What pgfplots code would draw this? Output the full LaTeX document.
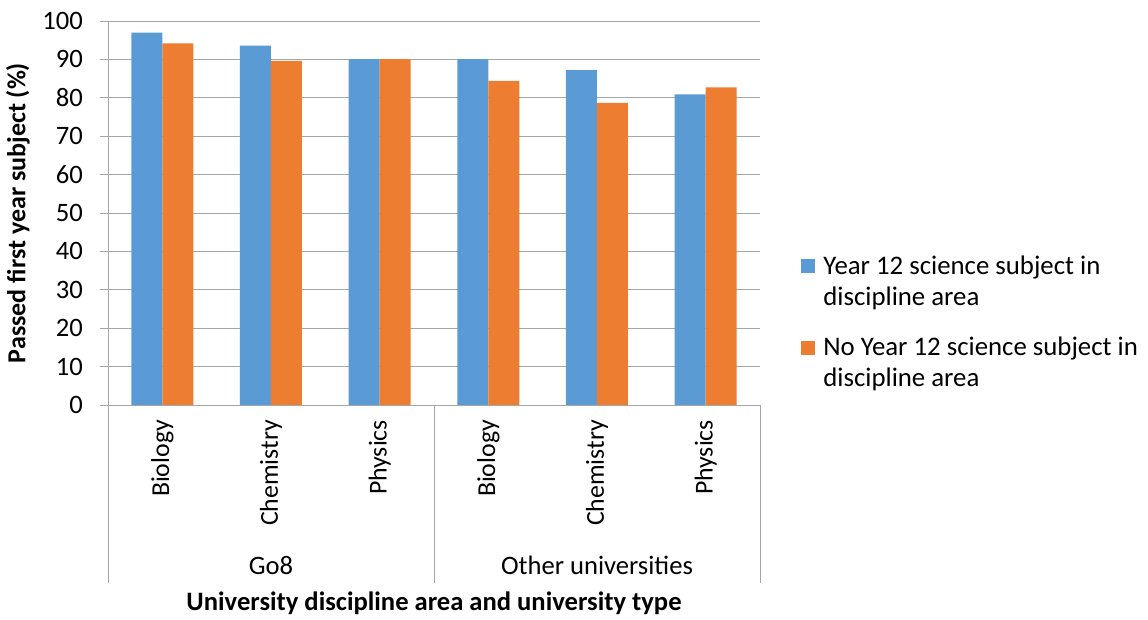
\documentclass[border=0pt]{standalone}
\usepackage{pgfplots}
\pgfplotsset{compat=1.18}
\usepackage{fontspec}
\setmainfont{Carlito}
\definecolor{cblue}{HTML}{5B9BD5}
\definecolor{corange}{HTML}{ED7D31}
\definecolor{cgrid}{HTML}{A6A6A6}
\begin{document}
\begin{tikzpicture}[font=\fontsize{13.3}{15.5}\selectfont]
\useasboundingbox (0,0) rectangle (574pt,310pt);
\begin{axis}[
  at={(54pt,107.5pt)}, anchor=south west,
  scale only axis, width=326pt, height=192pt,
  ybar=0pt, bar width=15.5pt,
  xmin=-0.5, xmax=5.5, ymin=0, ymax=100,
  xtick={0,1,2,3,4,5},
  xticklabels={Biology,Chemistry,Physics,Biology,Chemistry,Physics},
  xticklabel style={rotate=90, anchor=east, font=\fontsize{12.9}{15.5}\selectfont},
  x tick style={draw=none},
  ytick={0,10,...,100},
  y tick style={cgrid, thin},
  ytick pos=left,
  tick align=outside, major tick length=4pt,
  yticklabel style={xshift=-5pt},
  ymajorgrids, major grid style={cgrid, thin},
  axis line style={cgrid, thin},
  axis x line*=bottom, axis y line*=left,
  /pgf/number format/assume math mode=true,
  clip=false,
  ylabel={\bfseries Passed first year subject (\%)},
  ylabel style={at={(axis description cs:-0.138,0.5)}, anchor=center, font=\fontsize{13}{15.5}\selectfont},
  xlabel={\bfseries University discipline area and university type},
  xlabel style={at={(axis description cs:0.5,0)}, anchor=base, yshift=-103pt},
  legend style={at={(axis description cs:1,0.5)}, anchor=north west, xshift=20.5pt, yshift=-19pt,
    draw=none, fill=none, inner sep=0pt, row sep=10.5pt, cells={align=left, anchor=west},
    font=\fontsize{13.4}{15.5}\selectfont},
  legend image code/.code={\path[fill=none, draw=none] (0pt,-11.25pt) rectangle (9pt,11.25pt); \fill[#1] (0pt,4.25pt) rectangle (7pt,11.25pt);},
]
\addplot[fill=cblue, draw=none] coordinates {(0,97.0) (1,93.6) (2,90.1) (3,90.1) (4,87.2) (5,80.9)};
\addplot[fill=corange, draw=none] coordinates {(0,94.2) (1,89.6) (2,90.1) (3,84.4) (4,78.7) (5,82.7)};
\legend{Year 12 science subject in\\discipline area, No Year 12 science subject in\\discipline area}
\draw[cgrid, thin] (axis cs:-0.5,0) -- ++(0pt,-89pt);
\draw[cgrid, thin] (axis cs:2.5,0) -- ++(0pt,-89pt);
\draw[cgrid, thin] (axis cs:5.5,0) -- ++(0pt,-89pt);
\node[anchor=base, yshift=-85pt] at (axis cs:1,0) {Go8};
\node[anchor=base, yshift=-85pt] at (axis cs:4,0) {Other universities};
\end{axis}
\end{tikzpicture}
\end{document}
